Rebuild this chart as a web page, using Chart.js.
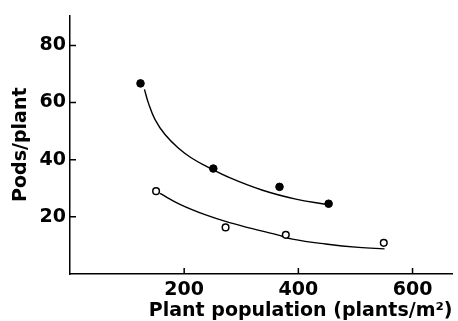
<!DOCTYPE html>
<html>
<head>
<meta charset="utf-8">
<script src="https://cdn.jsdelivr.net/npm/chart.js@4/dist/chart.umd.min.js"></script>
<style>
html,body{margin:0;padding:0;background:#fff;}
#wrap{width:458px;height:321px;position:relative;}
</style>
</head>
<body>
<div id="wrap"><canvas id="c"></canvas></div>
<script>
// Observed data (filled = closed circles, open = open circles)
const filledX = [123.5, 251, 367, 453];
const filledY = [66.7, 36.9, 30.5, 24.6];
const openX = [150.8, 272.5, 378, 549.6];
const openY = [29.0, 16.3, 13.7, 10.9];
// Fitted curves
const curveHighX = [130.4, 137.4, 149, 166.4, 189.6, 212.9, 239, 279.5, 337.4, 395.5, 447.7];
const curveHighY = [64.6, 59.8, 54.0, 48.8, 44.1, 40.6, 37.7, 33.7, 29.3, 26.2, 24.4];
const curveLowX = [157.7, 192.5, 239, 279.5, 337, 363.5, 389.6, 447.7, 505.6, 551];
const curveLowY = [28.2, 24.4, 20.6, 18.0, 15.0, 13.7, 12.2, 10.5, 9.3, 8.8];
// Axis ticks
const xTicks = [200, 400, 600];
const yTicks = [20, 40, 60, 80];

const pts = (xs, ys) => xs.map((x, i) => ({x: x, y: ys[i]}));
const FONT = "'DejaVu Sans', sans-serif";

const inwardTicks = {
  id: 'inwardTicks',
  afterDraw(chart) {
    const ctx = chart.ctx;
    const xs = chart.scales.x, ys = chart.scales.y;
    const a = chart.chartArea;
    ctx.save();
    ctx.strokeStyle = '#000';
    ctx.lineWidth = 1.5;
    ctx.beginPath();
    xTicks.forEach(v => {
      const px = xs.getPixelForValue(v);
      ctx.moveTo(px, a.bottom);
      ctx.lineTo(px, a.bottom - 6);
    });
    yTicks.forEach(v => {
      const py = ys.getPixelForValue(v);
      ctx.moveTo(a.left - 1, py);
      ctx.lineTo(a.left + 6, py);
    });
    ctx.stroke();
    ctx.restore();
  }
};

new Chart(document.getElementById('c'), {
  type: 'scatter',
  data: {
    datasets: [
      {data: pts(filledX, filledY), pointRadius: 3.8, pointBackgroundColor: '#000', pointBorderColor: '#000', pointBorderWidth: 1, showLine: false, order: 0},
      {data: pts(openX, openY), pointRadius: 3.3, pointBackgroundColor: '#fff', pointBorderColor: '#000', pointBorderWidth: 1.5, showLine: false, order: 0},
      {data: pts(curveHighX, curveHighY), showLine: true, pointRadius: 0, borderColor: '#000', borderWidth: 1.4, tension: 0.4, fill: false, order: 1},
      {data: pts(curveLowX, curveLowY), showLine: true, pointRadius: 0, borderColor: '#000', borderWidth: 1.4, tension: 0.4, fill: false, order: 1}
    ]
  },
  options: {
    responsive: true,
    maintainAspectRatio: false,
    animation: false,
    layout: {padding: {top: 13, right: 3, left: 0, bottom: 0}},
    plugins: {legend: {display: false}, tooltip: {enabled: false}},
    scales: {
      x: {
        type: 'linear', min: 0, max: 670,
        afterBuildTicks: s => { s.ticks = xTicks.map(v => ({value: v})); },
        afterFit: s => { s.height = 47; },
        grid: {display: true, drawOnChartArea: false, drawTicks: false},
        border: {display: true, color: '#000', width: 1.5},
        ticks: {color: '#000', padding: 5, font: {family: FONT, size: 19, weight: 'bold'}, maxRotation: 0},
        title: {display: true, text: 'Plant population (plants/m²)', align: 'end', color: '#000', padding: {top: 0, bottom: -1}, font: {family: FONT, size: 19, weight: 'bold'}}
      },
      y: {
        type: 'linear', min: 0, max: 90.5,
        afterBuildTicks: s => { s.ticks = yTicks.map(v => ({value: v})); },
        afterFit: s => { s.width = 70; },
        grid: {display: true, drawOnChartArea: false, drawTicks: false},
        border: {display: true, color: '#000', width: 1.5},
        ticks: {color: '#000', padding: 4, font: {family: FONT, size: 19, weight: 'bold'}},
        title: {display: true, text: 'Pods/plant', color: '#000', padding: {top: 10, bottom: 0}, font: {family: FONT, size: 19, weight: 'bold'}}
      }
    }
  },
  plugins: [inwardTicks]
});
</script>
</body>
</html>
